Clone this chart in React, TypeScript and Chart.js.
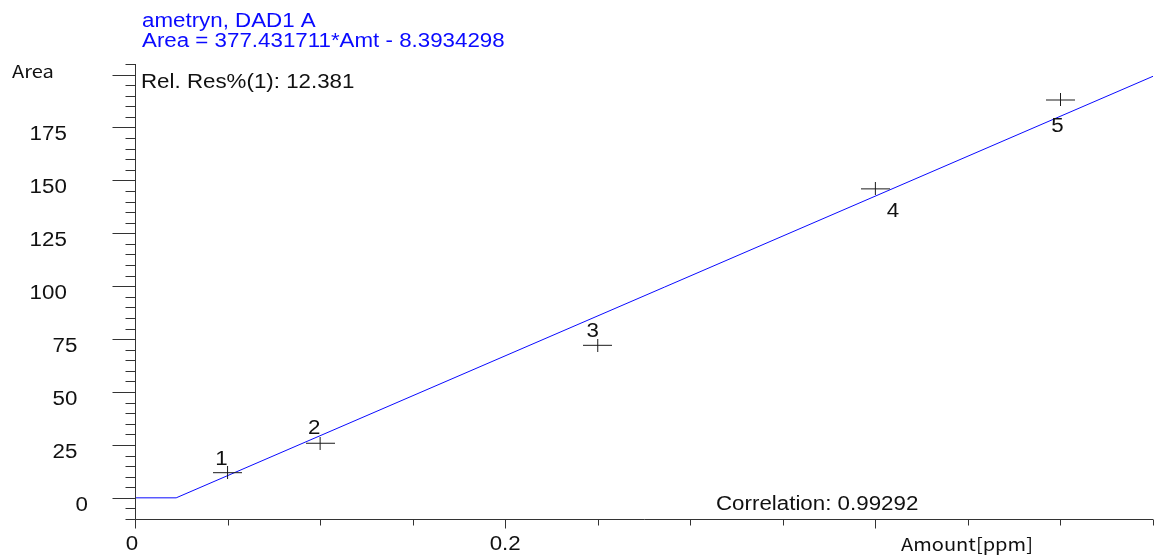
import React, { useEffect, useRef } from 'react';
import { Chart, registerables } from 'chart.js';

Chart.register(...registerables);

// Calibration levels: amount (ppm) and measured peak area
const amounts = [0.05, 0.1, 0.25, 0.4, 0.5];
const areas = [11.9, 25.8, 72.1, 146.0, 188.0];
const levelLabels = ['1', '2', '3', '4', '5'];

// Fitted calibration curve: Area = slope * Amt + intercept
const slope = 377.431711;
const intercept = -8.3934298;
const compoundName = 'ametryn, DAD1 A';
const relResText = 'Rel. Res%(1): 12.381';
const correlationText = 'Correlation: 0.99292';

// Axis ranges and labelled ticks
const xMin = 0;
const xMax = 0.55;
const yMin = -10;
const yMax = 205;
const xStep = 0.05;
const yStep = 5;
const xLabelValues = [0, 0.2];
const yLabelValues = [0, 25, 50, 75, 100, 125, 150, 175];
const xTitle = 'Amount[ppm]';
const yTitle = 'Area';

// Styling
const W = 1158;
const H = 556;
const BLUE = '#0a0aff';
const INK = '#111111';
const AXIS = '#333333';
const LATIN = '19.5px "Liberation Sans", Arial, sans-serif';
const LATIN_SX = 1.145;
const CJK = '17px "Noto Sans CJK JP", "Noto Sans", sans-serif';
const CJK_SX = 1.18;
// where each level number sits relative to its cross (dx to text centre, dy to baseline)
const levelLabelOffsets = [
  [-6, -8],
  [-6, -9],
  [-5, -8],
  [17.5, 28],
  [-3, 32],
];

function drawText(
  ctx: CanvasRenderingContext2D,
  text: string,
  x: number,
  y: number,
  font: string,
  color: string,
  sx: number,
  align: 'left' | 'center' | 'right' = 'left'
) {
  ctx.save();
  ctx.font = font;
  ctx.fillStyle = color;
  ctx.textAlign = 'left';
  ctx.textBaseline = 'alphabetic';
  const w = ctx.measureText(text).width * sx;
  let left = x;
  if (align === 'center') left = x - w / 2;
  if (align === 'right') left = x - w;
  ctx.translate(left, y);
  ctx.scale(sx, 1);
  ctx.fillText(text, 0, 0);
  ctx.restore();
  return w;
}

function textWidth(ctx: CanvasRenderingContext2D, text: string, font: string, sx: number) {
  ctx.save();
  ctx.font = font;
  const w = ctx.measureText(text).width * sx;
  ctx.restore();
  return w;
}

function makeCross() {
  const c = document.createElement('canvas');
  c.width = 29;
  c.height = 13;
  const g = c.getContext('2d')!;
  g.fillStyle = '#1a1a1a';
  g.fillRect(0, 6, 29, 1);
  g.fillRect(14, 0, 1, 13);
  return c;
}

const axesPlugin = {
  id: 'calAxes',
  afterDraw(chart: any) {
    const { ctx, chartArea } = chart;
    const xs = chart.scales.x;
    const ys = chart.scales.y;
    const left = Math.round(chartArea.left) + 0.5;
    const bottom = Math.round(chartArea.bottom) + 0.5;
    ctx.save();
    ctx.strokeStyle = AXIS;
    ctx.lineWidth = 1;
    ctx.beginPath();
    ctx.moveTo(left, Math.round(chartArea.top));
    ctx.lineTo(left, bottom);
    ctx.moveTo(left, bottom);
    ctx.lineTo(Math.round(chartArea.right), bottom);
    ctx.stroke();

    // y ticks: long at multiples of 25, short otherwise
    ctx.beginPath();
    ys.ticks.forEach((t: any) => {
      const v = t.value;
      const py = Math.round(ys.getPixelForValue(v)) + 0.5;
      const major = Math.abs(v % 25) < 1e-9;
      const len = major ? 23 : 10;
      ctx.moveTo(left - len, py);
      ctx.lineTo(left, py);
    });
    // x ticks: long at multiples of 0.2
    xs.ticks.forEach((t: any) => {
      const v = t.value;
      const px = Math.round(xs.getPixelForValue(v)) + 0.5;
      const r = v / 0.2;
      const major = Math.abs(r - Math.round(r)) < 1e-6;
      const len = major ? 9 : 6;
      ctx.moveTo(px, bottom);
      ctx.lineTo(px, bottom + len);
    });
    ctx.stroke();
    ctx.restore();

    // y tick labels: gap to the axis widens with label width
    yLabelValues.forEach((v) => {
      const s = String(v);
      const w = textWidth(ctx, s, LATIN, LATIN_SX);
      const py = ys.getPixelForValue(v);
      drawText(ctx, s, 98.5 - 0.85 * w, py + 13, LATIN, INK, LATIN_SX, 'right');
    });
    // x tick labels
    xLabelValues.forEach((v) => {
      const px = xs.getPixelForValue(v);
      drawText(ctx, String(v), px - (v === 0 ? 3 : 0), chartArea.bottom + 31, LATIN, INK, LATIN_SX, 'center');
    });

    // axis titles
    drawText(ctx, yTitle, 12, 78, CJK, INK, CJK_SX, 'left');
    drawText(ctx, xTitle, 901, 551, CJK, INK, CJK_SX, 'left');

    // header and statistics
    const eq = `Area = ${slope}*Amt ${intercept < 0 ? '-' : '+'} ${Math.abs(intercept)}`;
    drawText(ctx, compoundName, 142, 27, LATIN, BLUE, LATIN_SX, 'left');
    drawText(ctx, eq, 142, 46.5, LATIN, BLUE, LATIN_SX, 'left');
    drawText(ctx, relResText, 141, 88, LATIN, INK, LATIN_SX, 'left');
    drawText(ctx, correlationText, 716, 510, LATIN, INK, LATIN_SX, 'left');

    // level numbers next to the calibration points
    const meta = chart.getDatasetMeta(1);
    meta.data.forEach((pt: any, i: number) => {
      const [dx, dy] = levelLabelOffsets[i];
      drawText(ctx, levelLabels[i], pt.x + dx, pt.y + dy, LATIN, INK, LATIN_SX, 'center');
    });
  },
};

export default function App() {
  const ref = useRef<HTMLCanvasElement | null>(null);

  useEffect(() => {
    const canvas = ref.current;
    if (!canvas) return;
    const xZero = -intercept / slope;
    const curve = [
      { x: xMin, y: 0 },
      { x: xZero, y: 0 },
      { x: xMax, y: slope * xMax + intercept },
    ];
    const points = amounts.map((a, i) => ({ x: a, y: areas[i] }));

    const chart = new Chart(canvas, {
      type: 'scatter',
      data: {
        datasets: [
          {
            type: 'line',
            data: curve,
            borderColor: BLUE,
            borderWidth: 1,
            pointRadius: 0,
            fill: false,
            tension: 0,
            order: 2,
          } as any,
          {
            type: 'scatter',
            data: points,
            pointStyle: makeCross() as any,
            pointRadius: 3,
            order: 1,
          } as any,
        ],
      },
      options: {
        animation: false,
        responsive: false,
        devicePixelRatio: 1,
        events: [],
        layout: { padding: { top: 64, right: 5, left: 0, bottom: 0 } },
        plugins: { legend: { display: false }, tooltip: { enabled: false } },
        scales: {
          x: {
            type: 'linear',
            min: xMin,
            max: xMax,
            ticks: { display: false, stepSize: xStep, includeBounds: false },
            grid: { display: false, drawTicks: false },
            border: { display: false },
            afterFit: (s: any) => {
              s.height = 37;
            },
          },
          y: {
            type: 'linear',
            min: yMin,
            max: yMax,
            ticks: { display: false, stepSize: yStep, includeBounds: false },
            grid: { display: false, drawTicks: false },
            border: { display: false },
            afterFit: (s: any) => {
              s.width = 135;
            },
          },
        },
      } as any,
      plugins: [axesPlugin],
    });
    return () => chart.destroy();
  }, []);

  return (
    <div style={{ position: 'fixed', left: 0, top: 0, width: W, height: H, background: '#fff' }}>
      <canvas ref={ref} width={W} height={H} style={{ display: 'block', width: W, height: H }} />
    </div>
  );
}
